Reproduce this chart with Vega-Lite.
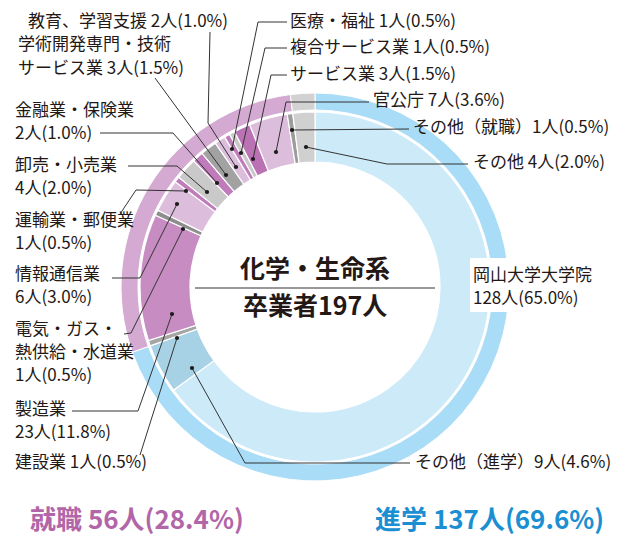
{
  "$schema": "https://vega.github.io/schema/vega-lite/v6.json",
  "width": 630,
  "height": 528,
  "autosize": {"type": "none"},
  "padding": {"top": 23, "left": 0, "right": 0, "bottom": 0},
  "background": "#ffffff",
  "config": {"view": {"stroke": null}, "font": "Noto Sans CJK JP"},
  "datasets": {
    "inner": [
      {"name": "岡山大学大学院", "n": 128, "ord": 1},
      {"name": "その他（進学）", "n": 9, "ord": 2},
      {"name": "建設業", "n": 1, "ord": 3},
      {"name": "製造業", "n": 23, "ord": 4},
      {"name": "電気・ガス・熱供給・水道業", "n": 1, "ord": 5},
      {"name": "情報通信業", "n": 6, "ord": 6},
      {"name": "運輸業・郵便業", "n": 1, "ord": 7},
      {"name": "卸売・小売業", "n": 4, "ord": 8},
      {"name": "金融業・保険業", "n": 2, "ord": 9},
      {"name": "学術開発専門・技術サービス業", "n": 3, "ord": 10},
      {"name": "教育、学習支援", "n": 2, "ord": 11},
      {"name": "医療・福祉", "n": 1, "ord": 12},
      {"name": "複合サービス業", "n": 1, "ord": 13},
      {"name": "サービス業", "n": 3, "ord": 14},
      {"name": "官公庁", "n": 7, "ord": 15},
      {"name": "その他（就職）", "n": 1, "ord": 16},
      {"name": "その他", "n": 4, "ord": 17}
    ],
    "outer": [
      {"name": "進学", "n": 137, "ord": 1},
      {"name": "就職", "n": 56, "ord": 2},
      {"name": "その他", "n": 4, "ord": 3}
    ],
    "boxes": [
      {"x": 470, "x2": 615, "y": 258, "y2": 312}
    ],
    "leaders": [
      {"id": "教育", "k": 1, "x": 210, "y": 32},
      {"id": "教育", "k": 2, "x": 208, "y": 123},
      {"id": "教育", "k": 3, "x": 236, "y": 167},
      {"id": "学術", "k": 1, "x": 155, "y": 78},
      {"id": "学術", "k": 2, "x": 226, "y": 175},
      {"id": "金融", "k": 1, "x": 100, "y": 133},
      {"id": "金融", "k": 2, "x": 173, "y": 133},
      {"id": "金融", "k": 3, "x": 217, "y": 183},
      {"id": "卸売", "k": 1, "x": 128, "y": 166},
      {"id": "卸売", "k": 2, "x": 177, "y": 166},
      {"id": "卸売", "k": 3, "x": 207, "y": 192},
      {"id": "運輸", "k": 1, "x": 120, "y": 214},
      {"id": "運輸", "k": 2, "x": 136, "y": 190},
      {"id": "運輸", "k": 3, "x": 186, "y": 191},
      {"id": "情報", "k": 1, "x": 112, "y": 278},
      {"id": "情報", "k": 2, "x": 140, "y": 278},
      {"id": "情報", "k": 3, "x": 177, "y": 204},
      {"id": "電気", "k": 1, "x": 124, "y": 334},
      {"id": "電気", "k": 2, "x": 131, "y": 333},
      {"id": "電気", "k": 3, "x": 183, "y": 229},
      {"id": "製造", "k": 1, "x": 72, "y": 411},
      {"id": "製造", "k": 2, "x": 138, "y": 411},
      {"id": "製造", "k": 3, "x": 172, "y": 314},
      {"id": "建設", "k": 1, "x": 140, "y": 455},
      {"id": "建設", "k": 2, "x": 177, "y": 338},
      {"id": "進学他", "k": 1, "x": 192, "y": 368},
      {"id": "進学他", "k": 2, "x": 245, "y": 463},
      {"id": "進学他", "k": 3, "x": 410, "y": 463},
      {"id": "医療", "k": 1, "x": 287, "y": 22},
      {"id": "医療", "k": 2, "x": 258, "y": 22},
      {"id": "医療", "k": 3, "x": 232, "y": 149},
      {"id": "複合", "k": 1, "x": 287, "y": 48},
      {"id": "複合", "k": 2, "x": 265, "y": 48},
      {"id": "複合", "k": 3, "x": 241, "y": 153},
      {"id": "サービス", "k": 1, "x": 287, "y": 75},
      {"id": "サービス", "k": 2, "x": 271, "y": 75},
      {"id": "サービス", "k": 3, "x": 253, "y": 159},
      {"id": "官公庁", "k": 1, "x": 369, "y": 102},
      {"id": "官公庁", "k": 2, "x": 286, "y": 102},
      {"id": "官公庁", "k": 3, "x": 276, "y": 152},
      {"id": "就職他", "k": 1, "x": 409, "y": 129},
      {"id": "就職他", "k": 2, "x": 292, "y": 130},
      {"id": "その他", "k": 1, "x": 306, "y": 147},
      {"id": "その他", "k": 2, "x": 387, "y": 164},
      {"id": "その他", "k": 3, "x": 468, "y": 164},
      {"id": "中央", "k": 1, "x": 195, "y": 288},
      {"id": "中央", "k": 2, "x": 435, "y": 288}
    ],
    "dots": [
      {"x": 236, "y": 167}, {"x": 226, "y": 175}, {"x": 217, "y": 183},
      {"x": 207, "y": 192}, {"x": 186, "y": 191}, {"x": 177, "y": 204},
      {"x": 183, "y": 229}, {"x": 172, "y": 314}, {"x": 177, "y": 338},
      {"x": 192, "y": 368}, {"x": 232, "y": 149}, {"x": 241, "y": 153},
      {"x": 253, "y": 159}, {"x": 276, "y": 152}, {"x": 292, "y": 130},
      {"x": 306, "y": 147}
    ],
    "labels": [
      {"t": "教育、学習支援 2人(1.0%)", "x": 28, "y": 22},
      {"t": "学術開発専門・技術", "x": 18, "y": 45},
      {"t": "サービス業 3人(1.5%)", "x": 18, "y": 69},
      {"t": "金融業・保険業", "x": 15, "y": 111},
      {"t": "2人(1.0%)", "x": 15, "y": 134},
      {"t": "卸売・小売業", "x": 15, "y": 166},
      {"t": "4人(2.0%)", "x": 15, "y": 189},
      {"t": "運輸業・郵便業", "x": 15, "y": 221},
      {"t": "1人(0.5%)", "x": 15, "y": 244},
      {"t": "情報通信業", "x": 15, "y": 275},
      {"t": "6人(3.0%)", "x": 15, "y": 298},
      {"t": "電気・ガス・", "x": 15, "y": 330},
      {"t": "熱供給・水道業", "x": 15, "y": 353},
      {"t": "1人(0.5%)", "x": 15, "y": 376},
      {"t": "製造業", "x": 15, "y": 410},
      {"t": "23人(11.8%)", "x": 15, "y": 433},
      {"t": "建設業 1人(0.5%)", "x": 15, "y": 463},
      {"t": "医療・福祉 1人(0.5%)", "x": 290, "y": 22},
      {"t": "複合サービス業 1人(0.5%)", "x": 290, "y": 48},
      {"t": "サービス業 3人(1.5%)", "x": 290, "y": 75},
      {"t": "官公庁 7人(3.6%)", "x": 373, "y": 101},
      {"t": "その他（就職）1人(0.5%)", "x": 413, "y": 128},
      {"t": "その他 4人(2.0%)", "x": 473, "y": 163},
      {"t": "岡山大学大学院", "x": 473, "y": 276},
      {"t": "128人(65.0%)", "x": 473, "y": 299},
      {"t": "その他（進学）9人(4.6%)", "x": 415, "y": 463}
    ],
    "center": [
      {"t": "化学・生命系", "x": 315, "y": 270},
      {"t": "卒業者197人", "x": 315, "y": 307}
    ],
    "totals": [
      {"t": "就職 56人(28.4%)", "g": "就職", "x": 30, "y": 521},
      {"t": "進学 137人(69.6%)", "g": "進学", "x": 375, "y": 521}
    ]
  },
  "resolve": {"scale": {"color": "independent"}},
  "layer": [
    {
      "data": {"name": "outer"},
      "mark": {"type": "arc", "radius": 194, "radius2": 177, "stroke": "#ffffff", "strokeWidth": 1},
      "encoding": {
        "theta": {"field": "n", "type": "quantitative", "stack": true},
        "order": {"field": "ord", "type": "quantitative"},
        "color": {"field": "name", "type": "nominal", "legend": null,
          "scale": {"domain": ["進学", "就職", "その他"], "range": ["#a9dcf6", "#d5aad2", "#d2d2d2"]}}
      }
    },
    {
      "data": {"name": "inner"},
      "mark": {"type": "arc", "radius": 175, "radius2": 125, "stroke": "#ffffff", "strokeWidth": 1.2},
      "encoding": {
        "theta": {"field": "n", "type": "quantitative", "stack": true},
        "order": {"field": "ord", "type": "quantitative"},
        "color": {"field": "name", "type": "nominal", "legend": null,
          "scale": {
            "domain": ["岡山大学大学院", "その他（進学）", "建設業", "製造業", "電気・ガス・熱供給・水道業", "情報通信業", "運輸業・郵便業", "卸売・小売業", "金融業・保険業", "学術開発専門・技術サービス業", "教育、学習支援", "医療・福祉", "複合サービス業", "サービス業", "官公庁", "その他（就職）", "その他"],
            "range": ["#cdeaf9", "#a7d1e4", "#a6a6a6", "#c78dc3", "#8e8e8e", "#dcbddc", "#c07cba", "#c9c9c9", "#c07cba", "#a2a2a2", "#dcbddc", "#c07cba", "#c9c9c9", "#bb72b4", "#dcbddc", "#9c9c9c", "#d0d0d0"]
          }}
      }
    },
    {
      "data": {"name": "boxes"},
      "mark": {"type": "rect", "color": "#ffffff", "opacity": 1},
      "encoding": {
        "x": {"field": "x", "type": "quantitative", "axis": null, "scale": {"domain": [0, 630], "nice": false, "zero": false}},
        "x2": {"field": "x2"},
        "y": {"field": "y", "type": "quantitative", "axis": null, "scale": {"domain": [23, 551], "reverse": true, "nice": false, "zero": false}},
        "y2": {"field": "y2"}
      }
    },
    {
      "data": {"name": "leaders"},
      "mark": {"type": "line", "color": "#333333", "strokeWidth": 1},
      "encoding": {
        "x": {"field": "x", "type": "quantitative", "axis": null, "scale": {"domain": [0, 630], "nice": false, "zero": false}},
        "y": {"field": "y", "type": "quantitative", "axis": null, "scale": {"domain": [23, 551], "reverse": true, "nice": false, "zero": false}},
        "detail": {"field": "id", "type": "nominal"},
        "order": {"field": "k", "type": "quantitative"}
      }
    },
    {
      "data": {"name": "dots"},
      "mark": {"type": "circle", "color": "#1a1a1a", "opacity": 1, "size": 18},
      "encoding": {
        "x": {"field": "x", "type": "quantitative", "axis": null, "scale": {"domain": [0, 630], "nice": false, "zero": false}},
        "y": {"field": "y", "type": "quantitative", "axis": null, "scale": {"domain": [23, 551], "reverse": true, "nice": false, "zero": false}}
      }
    },
    {
      "data": {"name": "labels"},
      "mark": {"type": "text", "align": "left", "baseline": "middle", "fontSize": 17, "color": "#231815", "font": "Noto Sans CJK JP"},
      "encoding": {
        "x": {"field": "x", "type": "quantitative", "axis": null, "scale": {"domain": [0, 630], "nice": false, "zero": false}},
        "y": {"field": "y", "type": "quantitative", "axis": null, "scale": {"domain": [23, 551], "reverse": true, "nice": false, "zero": false}},
        "text": {"field": "t", "type": "nominal"}
      }
    },
    {
      "data": {"name": "center"},
      "mark": {"type": "text", "align": "center", "baseline": "middle", "fontSize": 25, "fontWeight": "bold", "color": "#231815", "font": "Noto Sans CJK JP"},
      "encoding": {
        "x": {"field": "x", "type": "quantitative", "axis": null, "scale": {"domain": [0, 630], "nice": false, "zero": false}},
        "y": {"field": "y", "type": "quantitative", "axis": null, "scale": {"domain": [23, 551], "reverse": true, "nice": false, "zero": false}},
        "text": {"field": "t", "type": "nominal"}
      }
    },
    {
      "data": {"name": "totals"},
      "mark": {"type": "text", "align": "left", "baseline": "middle", "fontSize": 26, "fontWeight": "bold", "font": "Noto Sans CJK JP"},
      "encoding": {
        "x": {"field": "x", "type": "quantitative", "axis": null, "scale": {"domain": [0, 630], "nice": false, "zero": false}},
        "y": {"field": "y", "type": "quantitative", "axis": null, "scale": {"domain": [23, 551], "reverse": true, "nice": false, "zero": false}},
        "text": {"field": "t", "type": "nominal"},
        "color": {"field": "g", "type": "nominal", "legend": null, "scale": {"domain": ["就職", "進学"], "range": ["#b266a8", "#1b8fd2"]}}
      }
    }
  ]
}
